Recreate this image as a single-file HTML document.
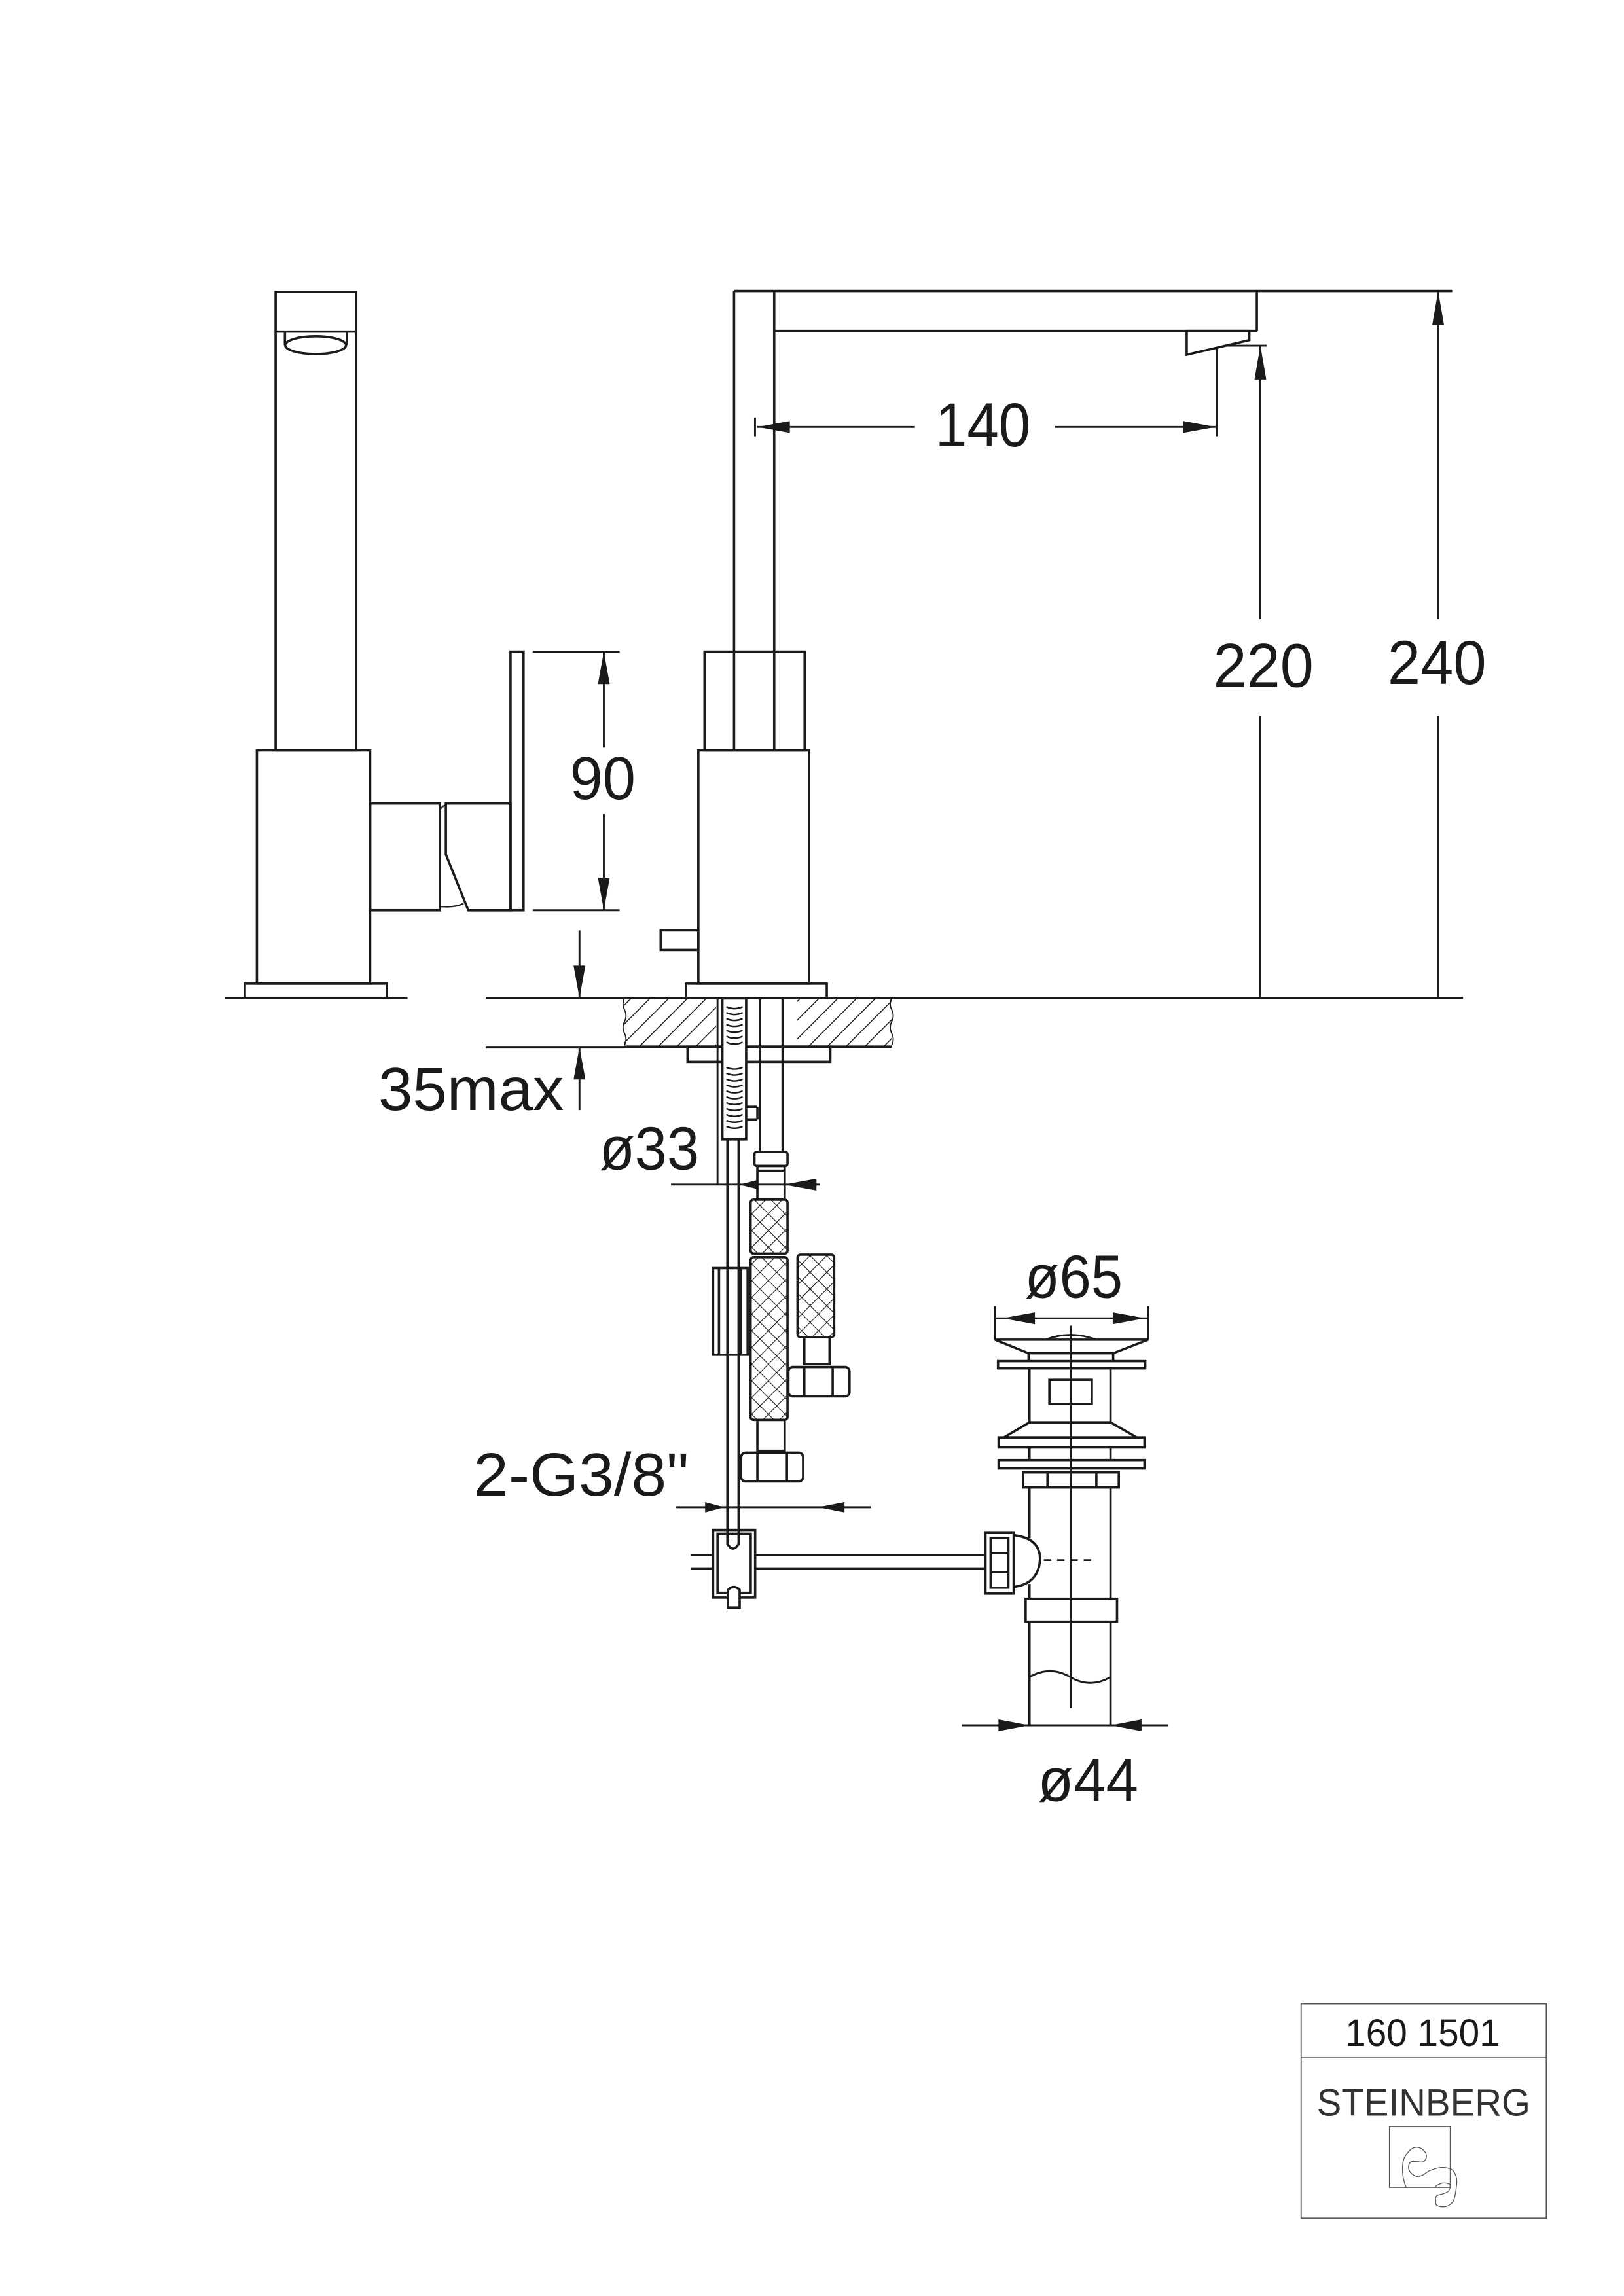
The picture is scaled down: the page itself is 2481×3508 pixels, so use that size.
<!DOCTYPE html>
<html><head><meta charset="utf-8"><style>
html,body{margin:0;padding:0;background:#fff;}
svg{display:block;}
text{font-family:"Liberation Sans",Arial,sans-serif;fill:#1a1a1a;}
</style></head><body>
<svg width="2481" height="3508" viewBox="0 0 1100 1555.3" xmlns="http://www.w3.org/2000/svg">
<defs>
<pattern id="hatch" patternUnits="userSpaceOnUse" width="9" height="9" patternTransform="rotate(45)">
<line x1="0" y1="0" x2="0" y2="9" stroke="#1a1a1a" stroke-width="1.3"/>
</pattern>
<pattern id="braid" patternUnits="userSpaceOnUse" width="8" height="8" patternTransform="rotate(45)">
<line x1="0" y1="0" x2="0" y2="8" stroke="#1a1a1a" stroke-width="1"/>
<line x1="0" y1="0" x2="8" y2="0" stroke="#1a1a1a" stroke-width="1"/>
</pattern>
</defs>
<rect width="1100" height="1555.3" fill="#fff"/>
<g fill="none" stroke="#1a1a1a" stroke-width="1.6">
<!-- LEFT VIEW -->
<rect x="186.7" y="197.8" width="54.6" height="310.5"/>
<line x1="186.7" y1="224.6" x2="241.3" y2="224.6"/>
<line x1="193" y1="224.6" x2="193" y2="233.6"/>
<line x1="235" y1="224.6" x2="235" y2="233.6"/>
<ellipse cx="213.8" cy="233.8" rx="20.6" ry="6"/>
<rect x="174" y="508.3" width="76.7" height="158"/>
<rect x="165.8" y="666.3" width="96.2" height="9.8"/>
<line x1="152.5" y1="676.1" x2="276" y2="676.1"/>
<rect x="250.7" y="544.3" width="47.3" height="72.3"/>
<path d="M302,544.3 H345.8 V616.6 H317.2 L302,578.8 Z"/>
<path d="M298,548.5 Q300,545.5 302,545.5" stroke-width="1"/>
<path d="M298,614 Q308,615 314,612" stroke-width="1"/>
<rect x="345.8" y="441.4" width="8.8" height="175.2"/>
<!-- 90 dim -->
<g stroke-width="1.3">
<line x1="360.8" y1="441.4" x2="419.7" y2="441.4"/>
<line x1="360.8" y1="616.6" x2="419.7" y2="616.6"/>
<line x1="409" y1="441.4" x2="409" y2="506.4"/>
<line x1="409" y1="551.3" x2="409" y2="616.6"/>
<line x1="392.5" y1="630.2" x2="392.5" y2="676.1"/>
<line x1="392.5" y1="709.2" x2="392.5" y2="752"/>
<line x1="329" y1="676.1" x2="991" y2="676.1"/>
<line x1="329" y1="709.2" x2="423" y2="709.2"/>
</g>
<!-- RIGHT VIEW -->
<line x1="497.2" y1="197.1" x2="497.2" y2="508.3"/>
<line x1="524.4" y1="197.1" x2="524.4" y2="508.3"/>
<line x1="497.2" y1="197.1" x2="983.6" y2="197.1"/>
<line x1="524.4" y1="224.2" x2="851.3" y2="224.2"/>
<line x1="851.3" y1="197.1" x2="851.3" y2="224.2"/>
<path d="M803.8,224.2 H846.2 V230.4 L803.8,240.3 Z"/>
<rect x="477.2" y="441.4" width="67.8" height="66.9"/>
<rect x="473" y="508.3" width="75" height="158"/>
<rect x="464.7" y="666.3" width="95.3" height="9.8"/>
<rect x="447.5" y="630.2" width="25.5" height="13.3"/>
<g stroke-width="1.3">
<line x1="830.3" y1="234.1" x2="858.1" y2="234.1"/>
<line x1="824.2" y1="235.7" x2="824.2" y2="295.5"/>
<line x1="511.4" y1="282.8" x2="511.4" y2="295.5"/>
<line x1="513" y1="289.2" x2="619.7" y2="289.2"/>
<line x1="714.3" y1="289.2" x2="823.5" y2="289.2"/>
<line x1="853.7" y1="234.1" x2="853.7" y2="419.3"/>
<line x1="853.7" y1="485" x2="853.7" y2="676"/>
<line x1="974.1" y1="197.1" x2="974.1" y2="419.3"/>
<line x1="974.1" y1="485" x2="974.1" y2="676"/>
</g>
<g transform="translate(0,-4)">
<!-- slab -->
<rect x="423" y="680.3" width="62" height="32.7" fill="url(#hatch)" stroke="none"/>
<rect x="540" y="680.3" width="64" height="32.7" fill="url(#hatch)" stroke="none"/>
<line x1="423" y1="713" x2="604" y2="713"/>
<path d="M423,680 q-2,4 0,8 t0,8 t0,8 t0,8" stroke-width="0.8"/>
<path d="M604,680 q-2,4 0,8 t0,8 t0,8 t0,8" stroke-width="0.8"/>
<rect x="465.7" y="713" width="96.7" height="10.3"/>
<!-- pipes -->
<line x1="486" y1="680" x2="486" y2="806.4" stroke-width="1.3"/>
<rect x="489.3" y="680.3" width="16.1" height="95.5" fill="#fff"/>
<path d="M492,686 q5.5,2.5 11,0 M492,690 q5.5,2.5 11,0 M492,694 q5.5,2.5 11,0 M492,698 q5.5,2.5 11,0 M492,702 q5.5,2.5 11,0 M492,706 q5.5,2.5 11,0 M492,710 q5.5,2.5 11,0 M492,727 q5.5,2.5 11,0 M492,731 q5.5,2.5 11,0 M492,735 q5.5,2.5 11,0 M492,739 q5.5,2.5 11,0 M492,743 q5.5,2.5 11,0 M492,747 q5.5,2.5 11,0 M492,751 q5.5,2.5 11,0 M492,755 q5.5,2.5 11,0 M492,759 q5.5,2.5 11,0 M492,763 q5.5,2.5 11,0 M492,767 q5.5,2.5 11,0" stroke-width="1.1"/>
<line x1="492.7" y1="775.8" x2="492.7" y2="1052"/>
<line x1="500.3" y1="775.8" x2="500.3" y2="1052"/>
<line x1="514.8" y1="680.3" x2="514.8" y2="784.3"/>
<line x1="530.1" y1="680.3" x2="530.1" y2="784.3"/>
<line x1="505.4" y1="753.8" x2="513" y2="753.8"/><line x1="505.4" y1="762.3" x2="513" y2="762.3"/><line x1="513" y1="753.8" x2="513" y2="762.3"/>
<!-- hoses -->
<rect x="511" y="784.3" width="22.4" height="9.5" rx="1.5"/>
<rect x="513" y="793.8" width="18.5" height="22.8"/>
<line x1="513" y1="797" x2="531.5" y2="797"/>
<rect x="508.4" y="816.6" width="25" height="36.6" rx="2" fill="url(#braid)"/>
<rect x="508.4" y="855.6" width="25" height="110.2" rx="2" fill="url(#braid)"/>
<rect x="513" y="965.8" width="18.5" height="21"/>
<rect x="502" y="988" width="42" height="19.5" rx="3"/>
<line x1="513" y1="988" x2="513" y2="1007.5"/><line x1="533" y1="988" x2="533" y2="1007.5"/>
<rect x="540.2" y="853.9" width="24.8" height="55.9" rx="2" fill="url(#braid)"/>
<rect x="544.8" y="909.8" width="17.1" height="18.2"/>
<rect x="534" y="930" width="41.4" height="19.9" rx="3"/>
<line x1="544.8" y1="930" x2="544.8" y2="949.9"/><line x1="564" y1="930" x2="564" y2="949.9"/>
<!-- clamp -->
<rect x="483" y="863" width="23.4" height="58.7" fill="#fff"/>
<line x1="487" y1="863" x2="487" y2="921.7"/><line x1="502" y1="863" x2="502" y2="921.7"/>
<line x1="492.7" y1="863" x2="492.7" y2="921.7"/><line x1="500.3" y1="863" x2="500.3" y2="921.7"/>
<g stroke-width="1.3">
<line x1="454.5" y1="806.4" x2="555.5" y2="806.4"/>
<line x1="458" y1="1025" x2="590" y2="1025"/>
</g>
<!-- connector -->
<rect x="483" y="1040.4" width="28.5" height="45.8" fill="#fff"/>
<rect x="486" y="1043" width="22.5" height="40"/>
<path d="M492.7,1040.4 V1050 Q496.5,1056 500.3,1050 V1040.4"/>
<path d="M493,1093 V1081 Q497,1077 501,1081 V1093 Z" fill="#fff"/>
<line x1="468" y1="1057.4" x2="483" y2="1057.4"/><line x1="468" y1="1066.5" x2="483" y2="1066.5"/>
<line x1="511.5" y1="1057.4" x2="667.5" y2="1057.4"/><line x1="511.5" y1="1066.5" x2="667.5" y2="1066.5"/>
<!-- drain -->
<rect x="667.5" y="1042" width="19.1" height="41.5"/>
<rect x="671" y="1046" width="12" height="33.5"/>
<line x1="671" y1="1056" x2="683" y2="1056"/><line x1="671" y1="1069" x2="683" y2="1069"/>
<path d="M686.6,1044 Q705,1046 704.4,1061 Q703,1077 686.6,1079"/>
<line x1="697.3" y1="1011.6" x2="697.3" y2="1046"/>
<line x1="697.3" y1="1077" x2="697.3" y2="1087"/>
<line x1="752.2" y1="1011.6" x2="752.2" y2="1087"/>
<rect x="694.7" y="1087" width="61.9" height="15.5"/>
<line x1="697.3" y1="1102.5" x2="697.3" y2="1172.7"/>
<line x1="752.2" y1="1102.5" x2="752.2" y2="1172.7"/>
<path d="M697.3,1140 q14,-8 27.5,0 t27.5,0" stroke-width="1.3"/>
<rect x="693" y="1001.4" width="64.8" height="10.2"/>
<line x1="709.5" y1="1001.4" x2="709.5" y2="1011.6"/><line x1="742.6" y1="1001.4" x2="742.6" y2="1011.6"/>
<rect x="676.4" y="993" width="98.8" height="5.7"/>
<rect x="676.4" y="977.7" width="98.8" height="6.8"/>
<line x1="697.3" y1="984.5" x2="697.3" y2="993"/><line x1="752.2" y1="984.5" x2="752.2" y2="993"/>
<path d="M697.3,967.5 H752.2 L770,977.7 H680 Z"/>
<line x1="697.3" y1="930.9" x2="697.3" y2="967.5"/><line x1="752.2" y1="930.9" x2="752.2" y2="967.5"/>
<rect x="710.8" y="938.7" width="28.7" height="16.3"/>
<rect x="676" y="926" width="99.7" height="4.9"/>
<line x1="696.7" y1="920.7" x2="696.7" y2="926"/><line x1="754" y1="920.7" x2="754" y2="926"/>
<path d="M673.9,911.5 H777.7 L754,920.7 H696.7 Z"/>
<path d="M708,911.5 Q725,905 742.6,911.5" stroke-width="1.2"/>
<line x1="725.3" y1="902" x2="725.3" y2="1161" stroke-width="1.2"/>
<line x1="707" y1="1060.8" x2="742" y2="1060.8" stroke-dasharray="5,4" stroke-width="1.2"/>
<g stroke-width="1.3">
<line x1="673.9" y1="888.8" x2="673.9" y2="911.5"/>
<line x1="777.7" y1="888.8" x2="777.7" y2="911.5"/>
<line x1="673.9" y1="897" x2="777.7" y2="897"/>
<line x1="651.5" y1="1172.7" x2="791" y2="1172.7"/>
</g>
</g>
<!-- title block -->
<g stroke="#555" stroke-width="0.8">
<rect x="881.3" y="1357.4" width="166.1" height="145.3"/>
<line x1="881.3" y1="1394" x2="1047.4" y2="1394"/>
<rect x="941.1" y="1440.6" width="41.2" height="41.2" stroke-width="0.6"/>
<path d="M952.5,1481.9 C949,1474 949,1462 953.3,1458.7 C956,1454 962,1452.5 965.8,1458.7 C967,1462 965,1465 962.2,1464.6 C959,1464 956,1464 955.5,1464.6 C953,1467 953.5,1472 959.2,1474.2 C963,1475 966,1471.5 968.1,1470.5 C972,1469 975,1468 976.9,1468.3 C981,1468 984,1470 984.3,1470.5 C987,1474 987,1478 986.5,1480.9 C986,1486 985,1490 984.3,1491.2 C982,1494 980,1495 977.7,1494.9 C973,1495 972,1493 972.5,1491.2 C972,1488 973,1487 974.7,1486.8 C978,1486 981,1485 981.4,1483.8 C983,1481 982,1479.5 981.4,1479.4 C979,1478.5 977,1478.5 975.4,1479.4 C973.5,1480 972.5,1481 971.8,1481.6" stroke-width="0.6"/>
</g>
</g>
<!-- arrowheads -->
<g fill="#1a1a1a" stroke="none">
<path d="M409,441.4 l-4,22 h8 z"/>
<path d="M409,616.6 l-4,-22 h8 z"/>
<path d="M392.5,676.1 l-4,-22 h8 z"/>
<path d="M392.5,709.2 l-4,22 h8 z"/>
<path d="M513,289.2 l22,-4 v8 z"/>
<path d="M823.5,289.2 l-22,-4 v8 z"/>
<path d="M853.7,234.1 l-4,23 h8 z"/>
<path d="M974.1,197.1 l-4,23 h8 z"/>
<g transform="translate(0,-4)">
<path d="M500.8,806.4 l12,-3 v6 z"/>
<path d="M531,806.4 l22,-4 v8 z"/>
<path d="M490.6,1025 l-13,-3.5 v7 z"/>
<path d="M554,1025 l18,-3.5 v7 z"/>
<path d="M679,897 l22,-4 v8 z"/>
<path d="M775.7,897 l-22,-4 v8 z"/>
<path d="M697.3,1172.7 l-21,-4 v8 z"/>
<path d="M752.2,1172.7 l21,-4 v8 z"/>
</g>
</g>
<!-- texts -->
<text x="386" y="541.3" font-size="41" textLength="44.5" lengthAdjust="spacingAndGlyphs">90</text>
<text x="633.5" y="302.4" font-size="42" textLength="64.5" lengthAdjust="spacingAndGlyphs">140</text>
<text x="821.8" y="465.4" font-size="42" textLength="68" lengthAdjust="spacingAndGlyphs">220</text>
<text x="939.9" y="463.4" font-size="42" textLength="66.8" lengthAdjust="spacingAndGlyphs">240</text>
<text x="256.2" y="752" font-size="41" textLength="125.7" lengthAdjust="spacingAndGlyphs">35max</text>
<text x="406" y="792" font-size="41" textLength="67.6" lengthAdjust="spacingAndGlyphs">ø33</text>
<text x="320.7" y="1013" font-size="41" textLength="145.9" lengthAdjust="spacingAndGlyphs">2-G3/8"</text>
<text x="694.2" y="879" font-size="41" textLength="66.2" lengthAdjust="spacingAndGlyphs">ø65</text>
<text x="703" y="1220" font-size="41" textLength="68" lengthAdjust="spacingAndGlyphs">ø44</text>
<text x="911.2" y="1386" font-size="26" textLength="104.9" lengthAdjust="spacingAndGlyphs">160 1501</text>
<text x="891.9" y="1433.2" font-size="26" textLength="144.7" lengthAdjust="spacingAndGlyphs" style="fill:#333">STEINBERG</text>
</svg>
</body></html>
